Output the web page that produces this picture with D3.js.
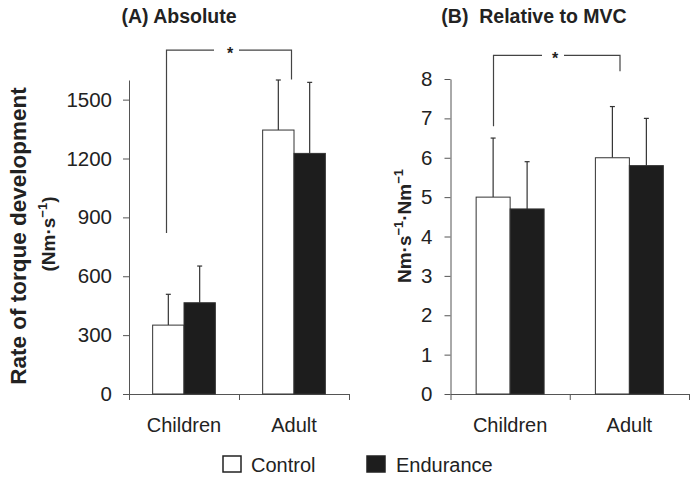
<!DOCTYPE html>
<html><head><meta charset="utf-8">
<script src="https://cdn.jsdelivr.net/npm/d3@7"></script>
<style>body{margin:0;background:#fff}svg{display:block}text{font-family:"Liberation Sans",Arial,sans-serif;fill:#222}</style>
</head><body>
<svg id="c" width="698" height="481"></svg>
<script>
const categories = ["Children", "Adult"];
const seriesNames = ["Control", "Endurance"];
// Panel A: absolute RTD (Nm·s^-1)
const absMeans = { Control: [351, 1345], Endurance: [465, 1226] };
const absSD    = { Control: [157, 255],  Endurance: [187, 362] };
const absTicks = [0, 300, 600, 900, 1200, 1500];
// Panel B: relative to MVC
const relMeans = { Control: [5.0, 6.0], Endurance: [4.7, 5.8] };
const relSD    = { Control: [1.5, 1.3], Endurance: [1.2, 1.2] };
const relTicks = [0, 1, 2, 3, 4, 5, 6, 7, 8];
// Significance brackets: [top value, left-leg bottom, right-leg bottom]
const absBracket = [1752, 820, 1603];
const relBracket = [8.6, 6.8, 8.2];

const svg = d3.select("#c");
const fillOf = { Control: "#fff", Endurance: "#1d1d1d" };
const axisCol = "#555";
const FONT = '"Liberation Sans",Arial,sans-serif';

function panel(cfg) {
  const g = svg.append("g");
  const x = d3.scaleBand().domain(categories).range([cfg.x0, cfg.x1]).padding(0);
  const inner = d3.scaleBand().domain(seriesNames)
    .range([x.bandwidth() * 0.215, x.bandwidth() * 0.785]).padding(0);
  const y = d3.scaleLinear().domain([0, cfg.max]).range([394, cfg.top]);

  // y axis
  const ya = g.append("g").attr("transform", `translate(${cfg.x0},0)`)
    .call(d3.axisLeft(y).tickValues(cfg.ticks).tickFormat(d3.format("d"))
      .tickSize(6).tickSizeOuter(0).tickPadding(cfg.pad));
  ya.select(".domain").attr("stroke", axisCol);
  ya.selectAll(".tick line").attr("stroke", axisCol);
  ya.selectAll(".tick text").style("font-size", "20.5px").attr("fill", "#222")
    .style("font-family", FONT);

  // x axis with ticks at band boundaries
  const xb = d3.scaleLinear().domain([0, categories.length]).range([cfg.x0, cfg.x1]);
  const xa = g.append("g").attr("transform", "translate(0,394)")
    .call(d3.axisBottom(xb).tickValues(d3.range(categories.length + 1)).tickFormat("").tickSize(6).tickSizeOuter(0));
  xa.select(".domain").attr("stroke", axisCol);
  xa.selectAll(".tick line").attr("stroke", axisCol);
  g.selectAll(".cat").data(categories).join("text")
    .attr("x", d => x(d) + x.bandwidth() / 2).attr("y", 432)
    .attr("text-anchor", "middle").style("font-size", "20px").text(d => d);

  // bars
  const rows = [];
  categories.forEach((c, i) => seriesNames.forEach(s =>
    rows.push({ c, s, v: cfg.means[s][i], sd: cfg.sd[s][i] })));
  g.selectAll(".err").data(rows).join("g").each(function (d) {
    const cx = x(d.c) + inner(d.s) + inner.bandwidth() / 2;
    const sel = d3.select(this);
    sel.append("line").attr("x1", cx).attr("x2", cx)
      .attr("y1", y(d.v)).attr("y2", y(d.v + d.sd)).attr("stroke", "#333").attr("stroke-width", 1.2);
    sel.append("line").attr("x1", cx - 2.5).attr("x2", cx + 2.5)
      .attr("y1", y(d.v + d.sd)).attr("y2", y(d.v + d.sd)).attr("stroke", "#333").attr("stroke-width", 1.2);
  });
  g.selectAll(".bar").data(rows).join("rect")
    .attr("x", d => x(d.c) + inner(d.s)).attr("width", inner.bandwidth())
    .attr("y", d => y(d.v)).attr("height", d => y(0) - y(d.v))
    .attr("fill", d => fillOf[d.s]).attr("stroke", "#333").attr("stroke-width", 1);

  // significance bracket
  const bx = cfg.bx;
  const [bt, bl, br] = cfg.bracket;
  const mid = (bx[0] + bx[1]) / 2 + cfg.starShift;
  const bc = "#444";
  g.append("path").attr("fill", "none").attr("stroke", bc).attr("stroke-width", 1.2)
    .attr("d", `M${bx[0]},${y(bl)}V${y(bt)}H${mid - cfg.gapL}`);
  g.append("path").attr("fill", "none").attr("stroke", bc).attr("stroke-width", 1.2)
    .attr("d", `M${mid + 9},${y(bt)}H${bx[1]}V${y(br)}`);
  g.append("text").attr("x", mid).attr("y", y(bt) + 9).attr("text-anchor", "middle")
    .style("font-size", "16px").style("font-weight", "bold").text("*");

  // title
  g.append("text").attr("x", cfg.titleX).attr("y", 23).attr("text-anchor", "middle")
    .style("font-size", "19.5px").style("font-weight", "bold").attr("xml:space", "preserve").text(cfg.title);
  return { g, x, y };
}

const A = panel({ x0: 129, x1: 349, top: 80, max: 1600, ticks: absTicks, pad: 11,
  means: absMeans, sd: absSD, bracket: absBracket, bx: [166.5, 291.5], starShift: 1, gapL: 16,
  title: "(A) Absolute", titleX: 179 });
const B = panel({ x0: 450.5, x1: 689, top: 79, max: 8, ticks: relTicks, pad: 12,
  means: relMeans, sd: relSD, bracket: relBracket, bx: [493.5, 620], starShift: -1.75, gapL: 13,
  title: "(B)  Relative to MVC", titleX: 534 });

// y-axis titles
svg.append("text").attr("transform", "translate(25.5,236) rotate(-90)").attr("text-anchor", "middle")
  .style("font-size", "22.5px").style("font-weight", "bold").text("Rate of torque development");
const l2 = svg.append("text").attr("transform", "translate(55,234) rotate(-90)").attr("text-anchor", "middle")
  .style("font-size", "19px").style("font-weight", "bold");
l2.append("tspan").text("(Nm·s");
l2.append("tspan").attr("dy", -8).style("font-size", "13px").text("−1");
l2.append("tspan").attr("dy", 8).text(")");

const l3 = svg.append("text").attr("transform", "translate(411,226) rotate(-90)").attr("text-anchor", "middle")
  .style("font-size", "19px").style("font-weight", "bold");
l3.append("tspan").text("Nm·s");
l3.append("tspan").attr("dy", -8).style("font-size", "13px").text("−1");
l3.append("tspan").attr("dy", 8).text("·Nm");
l3.append("tspan").attr("dy", -8).style("font-size", "13px").text("−1");

// legend
const leg = svg.append("g");
const legX = [223, 367], legTextX = [251, 396];
seriesNames.forEach((s, i) => {
  leg.append("rect").attr("x", legX[i]).attr("y", 456).attr("width", 18).attr("height", 16)
    .attr("fill", fillOf[s]).attr("stroke", "#222").attr("stroke-width", 1.5);
  leg.append("text").attr("x", legTextX[i]).attr("y", 472).style("font-size", "20px").text(s);
});
</script>
</body></html>
